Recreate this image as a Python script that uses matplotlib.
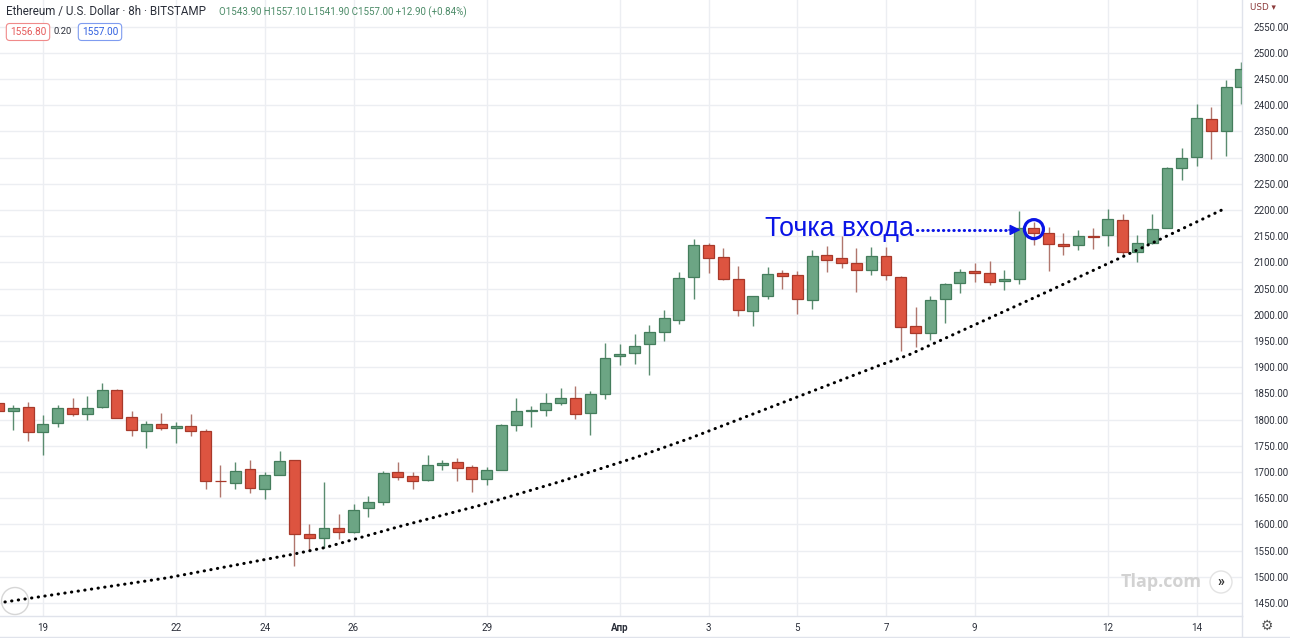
import numpy as np
import matplotlib.pyplot as plt
from matplotlib.patches import Ellipse, Circle

W, H = 1290, 638

# ETH/USD 8h candles, index 0 = 18 Mar 00:00
opens = [1831, 1816, 1825, 1776, 1794, 1823, 1811, 1824, 1857, 1805,
         1778, 1791, 1784, 1788, 1778, 1683, 1679, 1706, 1668, 1695,
         1722, 1582, 1575, 1594, 1586, 1632, 1642, 1700, 1692, 1684,
         1714, 1719, 1709, 1686, 1704, 1789, 1816, 1819, 1831, 1841,
         1812, 1849, 1922, 1928, 1945, 1968, 1991, 2073, 2134, 2111,
         2068, 2007, 2036, 2080, 2076, 2029, 2114, 2108, 2098, 2085,
         2112, 2072, 1979, 1965, 2031, 2061, 2083, 2079, 2064, 2068,
         2165, 2157, 2136, 2133, 2150, 2152, 2181, 2120, 2138, 2166,
         2280, 2302, 2374, 2350, 2435]
highs = [1836, 1827, 1833, 1809, 1827, 1842, 1846, 1869, 1858, 1817,
         1798, 1812, 1796, 1810, 1783, 1714, 1719, 1723, 1700, 1741,
         1723, 1600, 1680, 1620, 1638, 1654, 1702, 1720, 1700, 1733,
         1723, 1726, 1713, 1709, 1792, 1841, 1826, 1851, 1860, 1864,
         1854, 1947, 1945, 1964, 1981, 2009, 2081, 2145, 2137, 2128,
         2094, 2036, 2092, 2086, 2083, 2124, 2131, 2150, 2128, 2130,
         2129, 2075, 2014, 2035, 2061, 2087, 2099, 2103, 2085, 2199,
         2178, 2167, 2157, 2161, 2166, 2201, 2192, 2152, 2192, 2282,
         2319, 2403, 2396, 2448, 2483]
lows = [1812, 1781, 1760, 1733, 1786, 1806, 1800, 1823, 1804, 1768,
        1746, 1781, 1755, 1768, 1667, 1652, 1668, 1659, 1649, 1695,
        1520, 1550, 1555, 1572, 1584, 1614, 1637, 1684, 1667, 1683,
        1703, 1683, 1662, 1676, 1704, 1778, 1785, 1806, 1828, 1802,
        1770, 1839, 1904, 1907, 1886, 1950, 1983, 2031, 2080, 2066,
        1997, 1978, 2031, 2050, 2001, 2012, 2082, 2090, 2044, 2076,
        2067, 1930, 1939, 1951, 1985, 2042, 2062, 2056, 2048, 2059,
        2133, 2083, 2115, 2124, 2125, 2131, 2115, 2100, 2136, 2165,
        2258, 2284, 2297, 2303, 2403]
closes = [1816, 1822, 1776, 1792, 1822, 1810, 1823, 1856, 1804, 1781,
          1791, 1784, 1788, 1778, 1683, 1682, 1702, 1669, 1695, 1721,
          1582, 1575, 1594, 1586, 1628, 1642, 1699, 1690, 1682, 1714,
          1718, 1707, 1686, 1704, 1789, 1816, 1817, 1831, 1842, 1811,
          1849, 1918, 1926, 1941, 1967, 1993, 2071, 2133, 2109, 2069,
          2009, 2035, 2078, 2075, 2031, 2112, 2105, 2098, 2086, 2112,
          2076, 1977, 1965, 2029, 2058, 2082, 2079, 2062, 2068, 2165,
          2157, 2136, 2131, 2150, 2149, 2182, 2120, 2138, 2163, 2281,
          2300, 2375, 2351, 2434, 2470]

# day labels at candle index (3 candles per day)
day_pos = [3, 12, 18, 24, 33, 42, 48, 54, 60, 66, 75, 81]
day_labels = ["19", "22", "24", "26", "29", "Апр", "3", "5", "7", "9", "12", "14"]

# hand-drawn dotted support curve (candle index, price)
trend_x = [0.43, 11.4, 19.9, 22.1, 27.1, 32.5, 38.0, 43.2, 46.8, 59.6, 61.5, 70.9, 78.0, 82.7]
trend_y = [1452, 1498, 1543, 1556, 1596, 1636, 1682, 1729, 1765, 1904, 1923, 2044, 2137, 2200]

GREEN, GREEN_EDGE, GREEN_WICK = "#6ca584", "#447d5c", "#5a8c70"
RED, RED_EDGE, RED_WICK = "#dd5440", "#a8392a", "#b0766d"
BLUE = "#0a14e6"
GRID = "#eceef2"
AXLINE = "#e0e3eb"

plt.rcParams["font.family"] = ["Roboto", "DejaVu Sans"]

fig = plt.figure(figsize=(W / 100, H / 100), dpi=100)
ax = fig.add_axes([0, 22 / H, 1242 / W, 616 / H])

o = np.array(opens, float)
c = np.array(closes, float)
hi = np.array(highs, float)
lo = np.array(lows, float)
x = np.arange(len(o))
up = c >= o

# wicks
ax.vlines(x[up], lo[up], hi[up], color=GREEN_WICK, lw=1, zorder=2)
ax.vlines(x[~up], lo[~up], hi[~up], color=RED_WICK, lw=1, zorder=2)

# bodies
body = np.maximum(np.abs(c - o), 1.5)
bottom = np.minimum(o, c)
ax.bar(x[up], body[up], bottom=bottom[up], width=0.74, color=GREEN,
       edgecolor=GREEN_EDGE, linewidth=0.9, zorder=3)
ax.bar(x[~up], body[~up], bottom=bottom[~up], width=0.74, color=RED,
       edgecolor=RED_EDGE, linewidth=0.9, zorder=3)

# dotted support curve
ax.plot(trend_x, trend_y, color="black", lw=2.2, linestyle=(0, (0.1, 2.1)),
        dash_capstyle="round", zorder=4)

# entry point annotation
ax.text(51.82, 2150, "Точка входа", color=BLUE, fontsize=19.2,
        family=["Liberation Sans", "DejaVu Sans"], va="baseline", ha="left", zorder=5)
ax.plot([62.1, 68.4], [2162, 2162], color=BLUE, lw=2.2, linestyle=(0, (0.1, 1.6)),
        dash_capstyle="round", zorder=5)
ax.annotate("", xy=(69.1, 2162), xytext=(68.3, 2162),
            arrowprops=dict(arrowstyle="-|>", color=BLUE, lw=1, shrinkA=0, shrinkB=0,
                            mutation_scale=16), zorder=5)
ax.add_patch(Ellipse((70.0, 2163.5), width=1.29, height=36.3, fill=False,
                     ec=BLUE, lw=2.3, zorder=6))

ax.set_xlim(0.095, 84.07)
ax.set_ylim(1425.2, 2600.8)

yt = np.arange(1450, 2551, 50)
ax.set_yticks(yt)
ax.set_yticklabels([f"{v:.2f}" for v in yt])
ax.yaxis.tick_right()
ax.tick_params(axis="y", length=0, pad=8, labelsize=7, labelcolor="#2a2e39")
ax.set_xticks(day_pos)
ax.set_xticklabels(day_labels)
ax.tick_params(axis="x", length=0, pad=5, labelsize=7, labelcolor="#2a2e39")
for lab in ax.get_xticklabels():
    if lab.get_text() == "Апр":
        lab.set_fontweight("bold")
ax.grid(True, color=GRID, lw=1, zorder=0)
ax.set_axisbelow(True)
for s in ["top", "left"]:
    ax.spines[s].set_visible(False)
for s in ["right", "bottom"]:
    ax.spines[s].set_color(AXLINE)
    ax.spines[s].set_linewidth(1)

# overlay in pixel coords for the UI chrome
ov = fig.add_axes([0, 0, 1, 1], zorder=10)
ov.set_xlim(0, W)
ov.set_ylim(H, 0)
ov.axis("off")
ov.patch.set_visible(False)

ov.text(6, 12, "Ethereum / U.S. Dollar · 8h · BITSTAMP", fontsize=8.4,
        color="#2a2e39", va="center", ha="left")
ov.text(219, 12, "O1543.90 H1557.10 L1541.90 C1557.00 +12.90 (+0.84%)",
        fontsize=7.0, color="#4a8a66", va="center", ha="left")
ov.text(28, 32, "1556.80", fontsize=7.2, color="#e55a5a", ha="center", va="center",
        bbox=dict(boxstyle="round,pad=0.35", fc="white", ec="#f08a8a", lw=0.8))
ov.text(63, 32, "0.20", fontsize=6.8, color="#2a2e39", ha="center", va="center")
ov.text(100, 32, "1557.00", fontsize=7.2, color="#2f5fe0", ha="center", va="center",
        bbox=dict(boxstyle="round,pad=0.35", fc="white", ec="#7f9cf0", lw=0.8))
ov.text(1250, 8, "USD ▾", fontsize=6.3, color="#8b3a3a", ha="left", va="center",
        family=["DejaVu Sans"])

# bottom strip separators
ov.plot([1242, 1242], [616, 638], color=AXLINE, lw=1)
ov.plot([0, W], [636.5, 636.5], color=AXLINE, lw=1)
ov.text(1267, 626, "⚙", fontsize=10, color="#555555", ha="center", va="center",
        family=["DejaVu Sans"])

# watermark and scroll button
ov.text(1161, 582, "Tlap.com", fontsize=13, fontweight="bold", color="#d2d2d2",
        ha="center", va="center", family=["Open Sans", "DejaVu Sans"])
ov.add_patch(Circle((1221, 582), 11, fc="white", ec="#e3e3e3", lw=1))
ov.text(1221, 582, "»", fontsize=10, fontweight="bold", color="#333333",
        ha="center", va="center")
ov.add_patch(Circle((15, 601), 13.5, fill=False, ec="#d6d6d6", lw=1))

fig.savefig("out.png", dpi=100, facecolor="white")
